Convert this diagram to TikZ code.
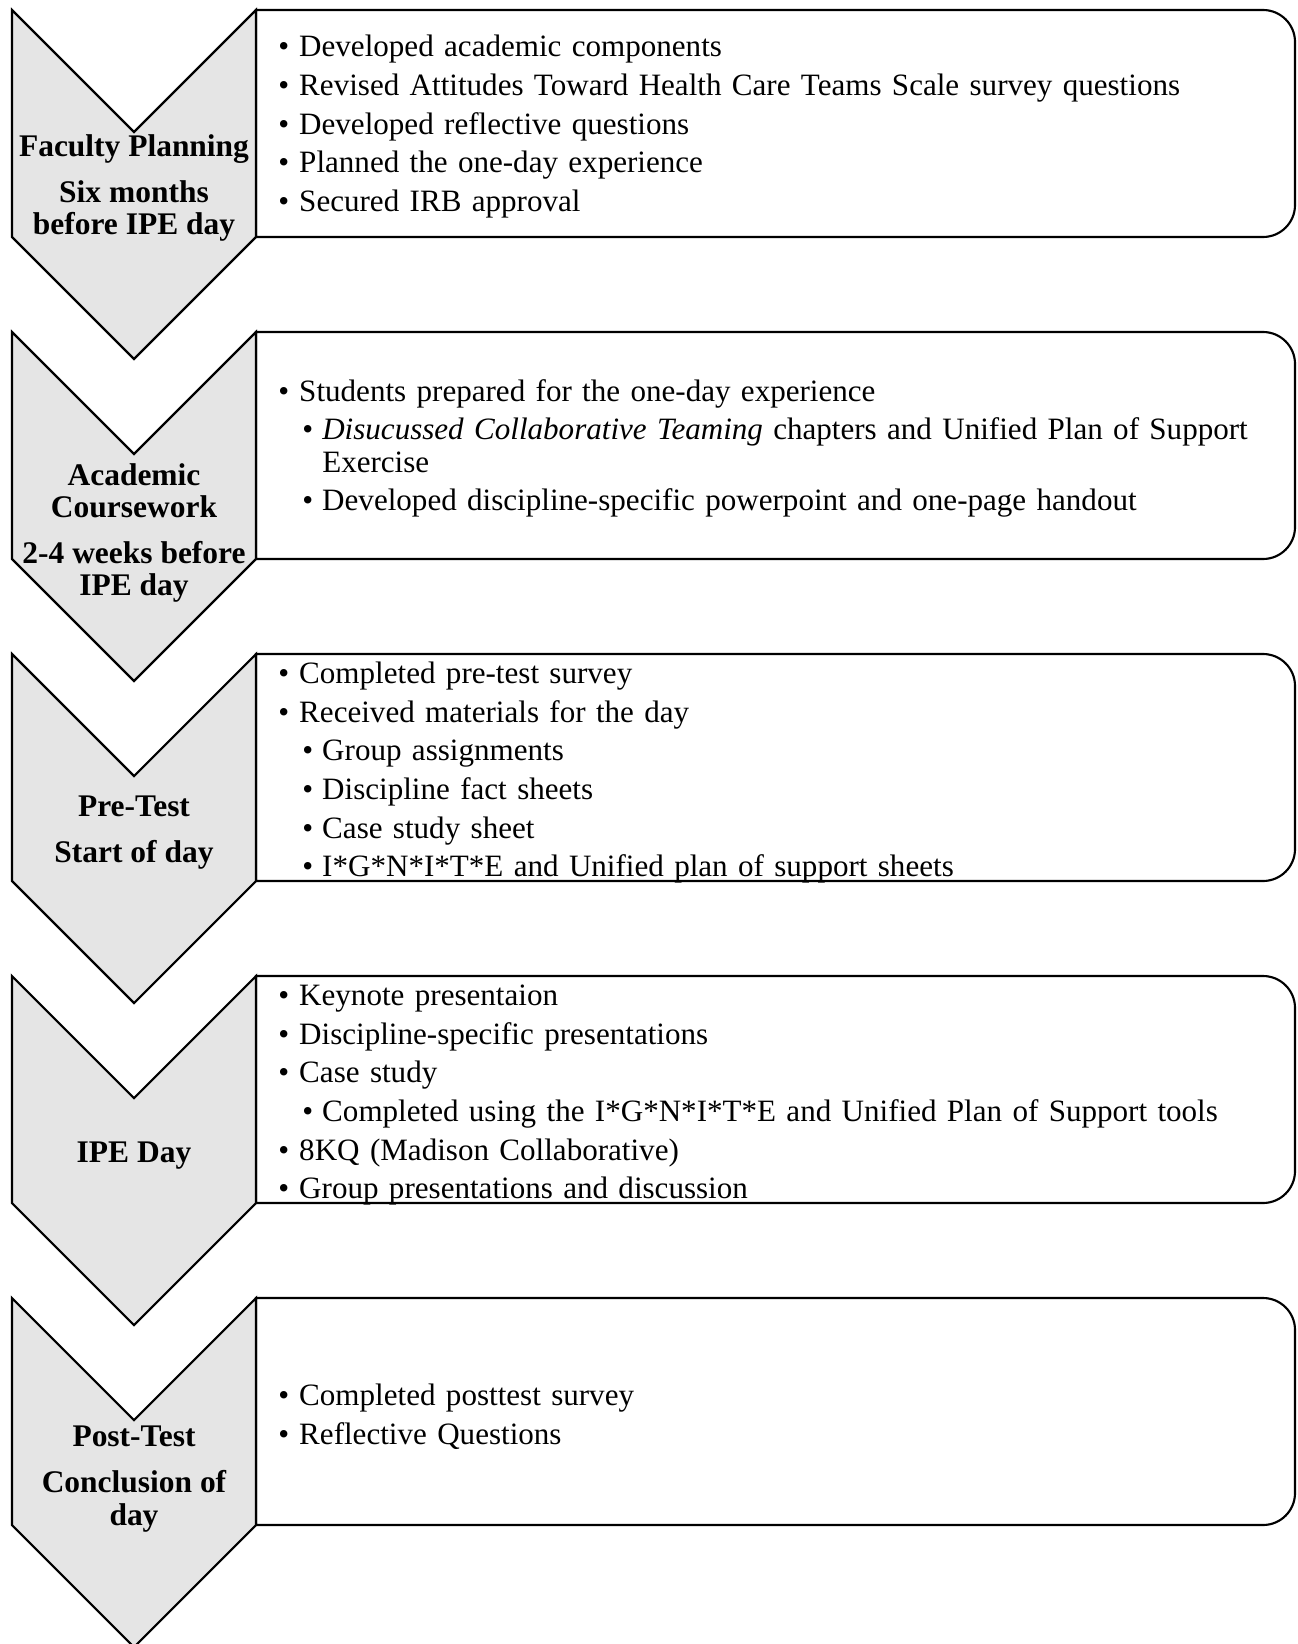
\documentclass[tikz,border=0pt]{standalone}
\usepackage{fontspec}
\setmainfont{Liberation Serif}
\usepackage{tikz}
\usetikzlibrary{positioning}
\tikzset{
  chevron/.style = {
    draw=black,
    fill=black!10,
    line width=1.6pt,
    line join=miter
  },
  panel/.style = {
    draw=black,
    fill=white,
    line width=1.6pt
  },
  phase/.style = {
    align=center,
    inner sep=0pt,
    font=\fontsize{23.6pt}{24.4pt}\selectfont\bfseries
  },
  tasks/.style = {
    anchor=west,
    inner sep=0pt,
    text width=760pt,
    font=\fontsize{23.3pt}{24.2pt}\selectfont,
    execute at begin node=\setlength{\parskip}{4.8pt}
  }
}
\newcommand{\tsk}[1]{\par\noindent\hangindent=15.75pt\hangafter=1\makebox[15.75pt][l]{\textbullet}#1}
\newcommand{\subtsk}[1]{\par\noindent\hangindent=33pt\hangafter=1\hspace{18pt}\makebox[15pt][l]{\textbullet}#1}

\begin{document}
\begin{tikzpicture}[x=0.75pt, y=-0.75pt]
\useasboundingbox (0,0) rectangle (1297,1644);

% ===== Caixas de tarefas =====
\draw [panel] (256,10) -- (700,10) [rounded corners=24pt] -- (1295,10) -- (1295,237) -- (700,237) [sharp corners] -- (256,237) -- cycle;
\draw [panel] (256,332) -- (700,332) [rounded corners=24pt] -- (1295,332) -- (1295,559) -- (700,559) [sharp corners] -- (256,559) -- cycle;
\draw [panel] (256,654) -- (700,654) [rounded corners=24pt] -- (1295,654) -- (1295,881) -- (700,881) [sharp corners] -- (256,881) -- cycle;
\draw [panel] (256,976) -- (700,976) [rounded corners=24pt] -- (1295,976) -- (1295,1203) -- (700,1203) [sharp corners] -- (256,1203) -- cycle;
\draw [panel] (256,1298) -- (700,1298) [rounded corners=24pt] -- (1295,1298) -- (1295,1525) -- (700,1525) [sharp corners] -- (256,1525) -- cycle;

% ===== Setas (chevrons) =====
\draw [chevron] (12,10) -- (134,132) -- (256,10) -- (256,237) -- (134,359) -- (12,237) -- cycle;
\draw [chevron] (12,332) -- (134,454) -- (256,332) -- (256,559) -- (134,681) -- (12,559) -- cycle;
\draw [chevron] (12,654) -- (134,776) -- (256,654) -- (256,881) -- (134,1003) -- (12,881) -- cycle;
\draw [chevron] (12,976) -- (134,1098) -- (256,976) -- (256,1203) -- (134,1325) -- (12,1203) -- cycle;
\draw [chevron] (12,1298) -- (134,1420) -- (256,1298) -- (256,1525) -- (134,1647) -- (12,1525) -- cycle;

% ===== Fases =====
\node (f1) [phase] at (134,188) {Faculty Planning\\[10pt]Six months\\before IPE day};
\node (f2) [phase] at (134,533) {Academic\\Coursework\\[10pt]2-4 weeks before\\IPE day};
\node (f3) [phase] at (134,833) {Pre-Test\\[10pt]Start of day};
\node (f4) [phase] at (134,1156) {IPE Day};
\node (f5) [phase] at (134,1479) {Post-Test\\[10pt]Conclusion of\\day};

% ===== Tarefas =====
\node (t1) [tasks] at (278,118) {%
  \tsk{Developed academic components}
  \tsk{Revised Attitudes Toward Health Care Teams Scale survey questions}
  \tsk{Developed reflective questions}
  \tsk{Planned the one-day experience}
  \tsk{Secured IRB approval}};
\node (t2) [tasks] at (278,440) {%
  \tsk{Students prepared for the one-day experience}
  \subtsk{\textit{Disucussed Collaborative Teaming} chapters and Unified Plan of Support\newline Exercise}
  \subtsk{Developed discipline-specific powerpoint and one-page handout}};
\node (t3) [tasks] at (278,764) {%
  \tsk{Completed pre-test survey}
  \tsk{Received materials for the day}
  \subtsk{Group assignments}
  \subtsk{Discipline fact sheets}
  \subtsk{Case study sheet}
  \subtsk{I*G*N*I*T*E and Unified plan of support sheets}};
\node (t4) [tasks] at (278,1086) {%
  \tsk{Keynote presentaion}
  \tsk{Discipline-specific presentations}
  \tsk{Case study}
  \subtsk{Completed using the I*G*N*I*T*E and Unified Plan of Support tools}
  \tsk{8KQ (Madison Collaborative)}
  \tsk{Group presentations and discussion}};
\node (t5) [tasks] at (278,1408) {%
  \tsk{Completed posttest survey}
  \tsk{Reflective Questions}};

\end{tikzpicture}
\end{document}
